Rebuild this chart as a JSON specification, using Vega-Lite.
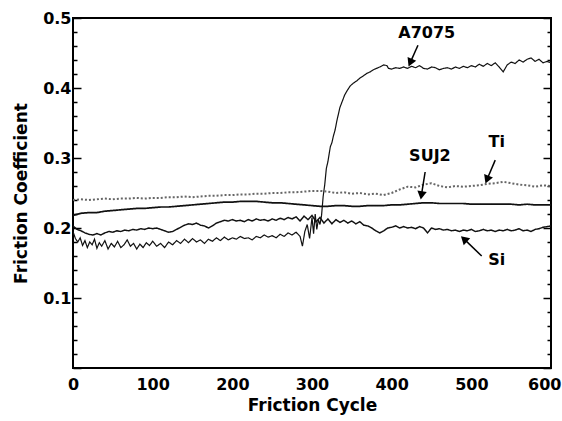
{
  "$schema": "https://vega.github.io/schema/vega-lite/v6.json",
  "width": 478,
  "height": 350,
  "autosize": {"type": "none"},
  "padding": {"left": 73, "top": 18, "right": 11, "bottom": 53},
  "background": "white",
  "config": {
    "view": {"stroke": "black", "strokeWidth": 2},
    "font": "DejaVu Sans",
    "axis": {"domain": false, "grid": false, "labelFont": "DejaVu Sans", "labelFontWeight": "bold", "labelFontSize": 16, "labelColor": "black", "titleFont": "DejaVu Sans", "titleFontWeight": "bold", "titleFontSize": 17, "titleColor": "black", "tickColor": "black"}
  },
  "datasets": {
    "curves": [
      {"s":"A7075","c":0,"f":0.195},{"s":"A7075","c":3,"f":0.185},{"s":"A7075","c":6,"f":0.180},{"s":"A7075","c":9,"f":0.186},{"s":"A7075","c":12,"f":0.175},{"s":"A7075","c":15,"f":0.182},{"s":"A7075","c":18,"f":0.172},{"s":"A7075","c":21,"f":0.180},{"s":"A7075","c":24,"f":0.176},{"s":"A7075","c":27,"f":0.184},{"s":"A7075","c":30,"f":0.171},{"s":"A7075","c":33,"f":0.179},{"s":"A7075","c":36,"f":0.174},{"s":"A7075","c":40,"f":0.182},{"s":"A7075","c":44,"f":0.170},{"s":"A7075","c":48,"f":0.178},{"s":"A7075","c":52,"f":0.173},{"s":"A7075","c":56,"f":0.181},{"s":"A7075","c":60,"f":0.172},{"s":"A7075","c":64,"f":0.176},{"s":"A7075","c":68,"f":0.183},{"s":"A7075","c":72,"f":0.174},{"s":"A7075","c":76,"f":0.178},{"s":"A7075","c":80,"f":0.170},{"s":"A7075","c":84,"f":0.177},{"s":"A7075","c":88,"f":0.172},{"s":"A7075","c":92,"f":0.179},{"s":"A7075","c":96,"f":0.175},{"s":"A7075","c":100,"f":0.181},{"s":"A7075","c":105,"f":0.174},{"s":"A7075","c":110,"f":0.178},{"s":"A7075","c":115,"f":0.172},{"s":"A7075","c":120,"f":0.180},{"s":"A7075","c":125,"f":0.176},{"s":"A7075","c":130,"f":0.182},{"s":"A7075","c":135,"f":0.178},{"s":"A7075","c":140,"f":0.184},{"s":"A7075","c":145,"f":0.179},{"s":"A7075","c":150,"f":0.185},{"s":"A7075","c":155,"f":0.180},{"s":"A7075","c":160,"f":0.183},{"s":"A7075","c":165,"f":0.178},{"s":"A7075","c":170,"f":0.184},{"s":"A7075","c":175,"f":0.181},{"s":"A7075","c":180,"f":0.186},{"s":"A7075","c":185,"f":0.182},{"s":"A7075","c":190,"f":0.187},{"s":"A7075","c":195,"f":0.183},{"s":"A7075","c":200,"f":0.186},{"s":"A7075","c":205,"f":0.184},{"s":"A7075","c":210,"f":0.188},{"s":"A7075","c":215,"f":0.185},{"s":"A7075","c":220,"f":0.186},{"s":"A7075","c":225,"f":0.183},{"s":"A7075","c":230,"f":0.188},{"s":"A7075","c":235,"f":0.186},{"s":"A7075","c":240,"f":0.190},{"s":"A7075","c":245,"f":0.187},{"s":"A7075","c":250,"f":0.189},{"s":"A7075","c":255,"f":0.186},{"s":"A7075","c":260,"f":0.191},{"s":"A7075","c":265,"f":0.188},{"s":"A7075","c":270,"f":0.193},{"s":"A7075","c":275,"f":0.190},{"s":"A7075","c":280,"f":0.194},{"s":"A7075","c":285,"f":0.188},{"s":"A7075","c":288,"f":0.174},{"s":"A7075","c":291,"f":0.195},{"s":"A7075","c":294,"f":0.205},{"s":"A7075","c":297,"f":0.185},{"s":"A7075","c":300,"f":0.215},{"s":"A7075","c":302,"f":0.192},{"s":"A7075","c":304,"f":0.220},{"s":"A7075","c":306,"f":0.198},{"s":"A7075","c":308,"f":0.212},{"s":"A7075","c":310,"f":0.205},{"s":"A7075","c":312,"f":0.218},{"s":"A7075","c":314,"f":0.245},{"s":"A7075","c":316,"f":0.262},{"s":"A7075","c":318,"f":0.285},{"s":"A7075","c":320,"f":0.295},{"s":"A7075","c":323,"f":0.316},{"s":"A7075","c":325,"f":0.322},{"s":"A7075","c":327,"f":0.332},{"s":"A7075","c":329,"f":0.340},{"s":"A7075","c":331,"f":0.352},{"s":"A7075","c":333,"f":0.362},{"s":"A7075","c":335,"f":0.372},{"s":"A7075","c":337,"f":0.378},{"s":"A7075","c":339,"f":0.384},{"s":"A7075","c":341,"f":0.390},{"s":"A7075","c":344,"f":0.396},{"s":"A7075","c":348,"f":0.403},{"s":"A7075","c":352,"f":0.407},{"s":"A7075","c":356,"f":0.410},{"s":"A7075","c":360,"f":0.414},{"s":"A7075","c":364,"f":0.417},{"s":"A7075","c":369,"f":0.421},{"s":"A7075","c":373,"f":0.423},{"s":"A7075","c":377,"f":0.426},{"s":"A7075","c":381,"f":0.428},{"s":"A7075","c":385,"f":0.430},{"s":"A7075","c":390,"f":0.433},{"s":"A7075","c":394,"f":0.432},{"s":"A7075","c":396,"f":0.428},{"s":"A7075","c":400,"f":0.427},{"s":"A7075","c":405,"f":0.429},{"s":"A7075","c":410,"f":0.428},{"s":"A7075","c":415,"f":0.430},{"s":"A7075","c":420,"f":0.428},{"s":"A7075","c":425,"f":0.431},{"s":"A7075","c":430,"f":0.429},{"s":"A7075","c":435,"f":0.432},{"s":"A7075","c":440,"f":0.428},{"s":"A7075","c":445,"f":0.427},{"s":"A7075","c":450,"f":0.430},{"s":"A7075","c":455,"f":0.429},{"s":"A7075","c":460,"f":0.426},{"s":"A7075","c":465,"f":0.428},{"s":"A7075","c":470,"f":0.429},{"s":"A7075","c":475,"f":0.427},{"s":"A7075","c":480,"f":0.430},{"s":"A7075","c":485,"f":0.428},{"s":"A7075","c":490,"f":0.431},{"s":"A7075","c":495,"f":0.429},{"s":"A7075","c":500,"f":0.432},{"s":"A7075","c":505,"f":0.430},{"s":"A7075","c":510,"f":0.434},{"s":"A7075","c":515,"f":0.431},{"s":"A7075","c":520,"f":0.435},{"s":"A7075","c":525,"f":0.432},{"s":"A7075","c":530,"f":0.436},{"s":"A7075","c":535,"f":0.430},{"s":"A7075","c":540,"f":0.423},{"s":"A7075","c":545,"f":0.433},{"s":"A7075","c":550,"f":0.437},{"s":"A7075","c":555,"f":0.435},{"s":"A7075","c":560,"f":0.440},{"s":"A7075","c":565,"f":0.437},{"s":"A7075","c":570,"f":0.441},{"s":"A7075","c":575,"f":0.443},{"s":"A7075","c":580,"f":0.438},{"s":"A7075","c":585,"f":0.441},{"s":"A7075","c":590,"f":0.436},{"s":"A7075","c":595,"f":0.438},{"s":"A7075","c":600,"f":0.436},

      {"s":"Si","c":0,"f":0.203},{"s":"Si","c":5,"f":0.198},{"s":"Si","c":10,"f":0.196},{"s":"Si","c":15,"f":0.193},{"s":"Si","c":20,"f":0.191},{"s":"Si","c":25,"f":0.190},{"s":"Si","c":30,"f":0.192},{"s":"Si","c":35,"f":0.190},{"s":"Si","c":40,"f":0.193},{"s":"Si","c":45,"f":0.195},{"s":"Si","c":50,"f":0.194},{"s":"Si","c":55,"f":0.196},{"s":"Si","c":60,"f":0.195},{"s":"Si","c":65,"f":0.197},{"s":"Si","c":70,"f":0.196},{"s":"Si","c":75,"f":0.198},{"s":"Si","c":80,"f":0.197},{"s":"Si","c":85,"f":0.199},{"s":"Si","c":90,"f":0.198},{"s":"Si","c":95,"f":0.200},{"s":"Si","c":100,"f":0.199},{"s":"Si","c":105,"f":0.200},{"s":"Si","c":110,"f":0.198},{"s":"Si","c":115,"f":0.196},{"s":"Si","c":120,"f":0.194},{"s":"Si","c":125,"f":0.195},{"s":"Si","c":130,"f":0.198},{"s":"Si","c":135,"f":0.201},{"s":"Si","c":140,"f":0.204},{"s":"Si","c":145,"f":0.206},{"s":"Si","c":150,"f":0.205},{"s":"Si","c":155,"f":0.207},{"s":"Si","c":160,"f":0.204},{"s":"Si","c":165,"f":0.203},{"s":"Si","c":170,"f":0.200},{"s":"Si","c":175,"f":0.203},{"s":"Si","c":180,"f":0.207},{"s":"Si","c":185,"f":0.209},{"s":"Si","c":190,"f":0.211},{"s":"Si","c":195,"f":0.210},{"s":"Si","c":200,"f":0.212},{"s":"Si","c":205,"f":0.210},{"s":"Si","c":210,"f":0.211},{"s":"Si","c":215,"f":0.209},{"s":"Si","c":220,"f":0.212},{"s":"Si","c":225,"f":0.210},{"s":"Si","c":230,"f":0.213},{"s":"Si","c":235,"f":0.211},{"s":"Si","c":240,"f":0.212},{"s":"Si","c":245,"f":0.210},{"s":"Si","c":250,"f":0.213},{"s":"Si","c":255,"f":0.211},{"s":"Si","c":260,"f":0.214},{"s":"Si","c":265,"f":0.212},{"s":"Si","c":270,"f":0.215},{"s":"Si","c":275,"f":0.213},{"s":"Si","c":280,"f":0.216},{"s":"Si","c":285,"f":0.210},{"s":"Si","c":290,"f":0.217},{"s":"Si","c":295,"f":0.212},{"s":"Si","c":300,"f":0.218},{"s":"Si","c":305,"f":0.209},{"s":"Si","c":310,"f":0.215},{"s":"Si","c":315,"f":0.207},{"s":"Si","c":320,"f":0.213},{"s":"Si","c":325,"f":0.206},{"s":"Si","c":330,"f":0.212},{"s":"Si","c":335,"f":0.208},{"s":"Si","c":340,"f":0.211},{"s":"Si","c":345,"f":0.207},{"s":"Si","c":350,"f":0.210},{"s":"Si","c":355,"f":0.206},{"s":"Si","c":360,"f":0.209},{"s":"Si","c":365,"f":0.204},{"s":"Si","c":370,"f":0.203},{"s":"Si","c":375,"f":0.200},{"s":"Si","c":380,"f":0.196},{"s":"Si","c":385,"f":0.193},{"s":"Si","c":390,"f":0.196},{"s":"Si","c":395,"f":0.200},{"s":"Si","c":400,"f":0.201},{"s":"Si","c":405,"f":0.203},{"s":"Si","c":410,"f":0.200},{"s":"Si","c":415,"f":0.202},{"s":"Si","c":420,"f":0.200},{"s":"Si","c":425,"f":0.201},{"s":"Si","c":430,"f":0.199},{"s":"Si","c":435,"f":0.202},{"s":"Si","c":440,"f":0.200},{"s":"Si","c":445,"f":0.193},{"s":"Si","c":450,"f":0.200},{"s":"Si","c":455,"f":0.198},{"s":"Si","c":460,"f":0.199},{"s":"Si","c":465,"f":0.197},{"s":"Si","c":470,"f":0.198},{"s":"Si","c":475,"f":0.196},{"s":"Si","c":480,"f":0.197},{"s":"Si","c":485,"f":0.195},{"s":"Si","c":490,"f":0.197},{"s":"Si","c":495,"f":0.196},{"s":"Si","c":500,"f":0.198},{"s":"Si","c":505,"f":0.195},{"s":"Si","c":510,"f":0.196},{"s":"Si","c":515,"f":0.198},{"s":"Si","c":520,"f":0.196},{"s":"Si","c":525,"f":0.197},{"s":"Si","c":530,"f":0.195},{"s":"Si","c":535,"f":0.197},{"s":"Si","c":540,"f":0.196},{"s":"Si","c":545,"f":0.198},{"s":"Si","c":550,"f":0.196},{"s":"Si","c":555,"f":0.197},{"s":"Si","c":560,"f":0.199},{"s":"Si","c":565,"f":0.196},{"s":"Si","c":570,"f":0.197},{"s":"Si","c":575,"f":0.195},{"s":"Si","c":580,"f":0.198},{"s":"Si","c":585,"f":0.199},{"s":"Si","c":590,"f":0.201},{"s":"Si","c":595,"f":0.202},{"s":"Si","c":600,"f":0.203},

      {"s":"SUJ2","c":0,"f":0.218},{"s":"SUJ2","c":10,"f":0.221},{"s":"SUJ2","c":20,"f":0.222},{"s":"SUJ2","c":30,"f":0.222},{"s":"SUJ2","c":40,"f":0.224},{"s":"SUJ2","c":50,"f":0.225},{"s":"SUJ2","c":60,"f":0.226},{"s":"SUJ2","c":70,"f":0.227},{"s":"SUJ2","c":80,"f":0.228},{"s":"SUJ2","c":90,"f":0.228},{"s":"SUJ2","c":100,"f":0.229},{"s":"SUJ2","c":110,"f":0.230},{"s":"SUJ2","c":120,"f":0.230},{"s":"SUJ2","c":130,"f":0.231},{"s":"SUJ2","c":140,"f":0.232},{"s":"SUJ2","c":150,"f":0.233},{"s":"SUJ2","c":160,"f":0.234},{"s":"SUJ2","c":170,"f":0.235},{"s":"SUJ2","c":180,"f":0.236},{"s":"SUJ2","c":190,"f":0.237},{"s":"SUJ2","c":200,"f":0.237},{"s":"SUJ2","c":210,"f":0.238},{"s":"SUJ2","c":220,"f":0.238},{"s":"SUJ2","c":230,"f":0.238},{"s":"SUJ2","c":240,"f":0.237},{"s":"SUJ2","c":250,"f":0.236},{"s":"SUJ2","c":260,"f":0.236},{"s":"SUJ2","c":270,"f":0.235},{"s":"SUJ2","c":280,"f":0.234},{"s":"SUJ2","c":290,"f":0.233},{"s":"SUJ2","c":300,"f":0.232},{"s":"SUJ2","c":310,"f":0.231},{"s":"SUJ2","c":320,"f":0.231},{"s":"SUJ2","c":330,"f":0.232},{"s":"SUJ2","c":340,"f":0.232},{"s":"SUJ2","c":350,"f":0.231},{"s":"SUJ2","c":360,"f":0.231},{"s":"SUJ2","c":370,"f":0.232},{"s":"SUJ2","c":380,"f":0.232},{"s":"SUJ2","c":390,"f":0.232},{"s":"SUJ2","c":400,"f":0.233},{"s":"SUJ2","c":410,"f":0.233},{"s":"SUJ2","c":420,"f":0.234},{"s":"SUJ2","c":430,"f":0.235},{"s":"SUJ2","c":440,"f":0.236},{"s":"SUJ2","c":450,"f":0.236},{"s":"SUJ2","c":460,"f":0.235},{"s":"SUJ2","c":470,"f":0.235},{"s":"SUJ2","c":480,"f":0.235},{"s":"SUJ2","c":490,"f":0.235},{"s":"SUJ2","c":500,"f":0.234},{"s":"SUJ2","c":510,"f":0.234},{"s":"SUJ2","c":520,"f":0.234},{"s":"SUJ2","c":530,"f":0.234},{"s":"SUJ2","c":540,"f":0.234},{"s":"SUJ2","c":550,"f":0.234},{"s":"SUJ2","c":560,"f":0.233},{"s":"SUJ2","c":570,"f":0.234},{"s":"SUJ2","c":580,"f":0.233},{"s":"SUJ2","c":590,"f":0.233},{"s":"SUJ2","c":600,"f":0.233},

      {"s":"Ti","c":0,"f":0.240},{"s":"Ti","c":10,"f":0.241},{"s":"Ti","c":20,"f":0.240},{"s":"Ti","c":30,"f":0.241},{"s":"Ti","c":40,"f":0.242},{"s":"Ti","c":50,"f":0.241},{"s":"Ti","c":60,"f":0.242},{"s":"Ti","c":70,"f":0.242},{"s":"Ti","c":80,"f":0.243},{"s":"Ti","c":90,"f":0.242},{"s":"Ti","c":100,"f":0.243},{"s":"Ti","c":110,"f":0.243},{"s":"Ti","c":120,"f":0.244},{"s":"Ti","c":130,"f":0.244},{"s":"Ti","c":140,"f":0.245},{"s":"Ti","c":150,"f":0.244},{"s":"Ti","c":160,"f":0.245},{"s":"Ti","c":170,"f":0.246},{"s":"Ti","c":180,"f":0.246},{"s":"Ti","c":190,"f":0.247},{"s":"Ti","c":200,"f":0.247},{"s":"Ti","c":210,"f":0.248},{"s":"Ti","c":220,"f":0.248},{"s":"Ti","c":230,"f":0.249},{"s":"Ti","c":240,"f":0.249},{"s":"Ti","c":250,"f":0.250},{"s":"Ti","c":260,"f":0.250},{"s":"Ti","c":270,"f":0.251},{"s":"Ti","c":280,"f":0.251},{"s":"Ti","c":290,"f":0.252},{"s":"Ti","c":300,"f":0.253},{"s":"Ti","c":310,"f":0.253},{"s":"Ti","c":320,"f":0.252},{"s":"Ti","c":330,"f":0.250},{"s":"Ti","c":340,"f":0.251},{"s":"Ti","c":350,"f":0.249},{"s":"Ti","c":360,"f":0.250},{"s":"Ti","c":370,"f":0.248},{"s":"Ti","c":380,"f":0.249},{"s":"Ti","c":390,"f":0.247},{"s":"Ti","c":400,"f":0.250},{"s":"Ti","c":410,"f":0.255},{"s":"Ti","c":420,"f":0.259},{"s":"Ti","c":430,"f":0.258},{"s":"Ti","c":440,"f":0.262},{"s":"Ti","c":450,"f":0.264},{"s":"Ti","c":460,"f":0.260},{"s":"Ti","c":470,"f":0.258},{"s":"Ti","c":480,"f":0.260},{"s":"Ti","c":490,"f":0.259},{"s":"Ti","c":500,"f":0.260},{"s":"Ti","c":510,"f":0.261},{"s":"Ti","c":520,"f":0.263},{"s":"Ti","c":530,"f":0.264},{"s":"Ti","c":540,"f":0.266},{"s":"Ti","c":550,"f":0.264},{"s":"Ti","c":560,"f":0.262},{"s":"Ti","c":570,"f":0.261},{"s":"Ti","c":580,"f":0.259},{"s":"Ti","c":590,"f":0.261},{"s":"Ti","c":600,"f":0.260}
    ],
    "notes": [
      {"label":"A7075","c":444,"f":0.479,"ac":433,"af":0.461,"hc":424,"hf":0.438},
      {"label":"SUJ2","c":448,"f":0.303,"ac":442,"af":0.280,"hc":437.6,"hf":0.2486},
      {"label":"Ti","c":532,"f":0.323,"ac":530,"af":0.297,"hc":520.3,"hf":0.271},
      {"label":"Si","c":532,"f":0.154,"ac":513,"af":0.160,"hc":492,"hf":0.183}
    ]
  },
  "layer": [
    {
      "data": {"name": "curves"},
      "mark": {"type": "line", "clip": true},
      "encoding": {
        "x": {"field": "c", "type": "quantitative", "scale": {"domain": [0, 600], "nice": false},
              "axis": {"values": [0,100,200,300,400,500,600], "ticks": false, "labelPadding": 8, "title": "Friction Cycle", "titlePadding": 5, "labelFlush": false,
                       "labelAlign": {"condition": {"test": "datum.value == 600", "value": "right"}, "value": "center"},
                       "labelOffset": {"condition": {"test": "datum.value == 600", "value": 10}, "value": 0}}},
        "y": {"field": "f", "type": "quantitative", "scale": {"domain": [0, 0.5], "nice": false, "zero": false},
              "axis": {"orient": "left", "values": [0,0.02,0.04,0.06,0.08,0.1,0.12,0.14,0.16,0.18,0.2,0.22,0.24,0.26,0.28,0.3,0.32,0.34,0.36,0.38,0.4,0.42,0.44,0.46,0.48,0.5],
                       "labelExpr": "datum.value > 0.05 && abs(datum.value*10 - round(datum.value*10)) < 0.01 ? format(datum.value, '.1f') : ''",
                       "tickSize": {"condition": {"test": "abs(datum.value*10 - round(datum.value*10)) < 0.01", "value": -8}, "value": -4},
                       "tickWidth": 1.5, "labelPadding": 10, "labelFlush": false, "title": "Friction Coefficient", "titlePadding": 12}},
        "color": {"field": "s", "type": "nominal", "scale": {"domain": ["A7075","Si","SUJ2","Ti"], "range": ["#111111","#111111","#111111","#666666"]}, "legend": null},
        "strokeWidth": {"field": "s", "type": "nominal", "scale": {"domain": ["A7075","Si","SUJ2","Ti"], "range": [1.2, 2, 2, 1.1]}, "legend": null},
        "strokeDash": {"field": "s", "type": "nominal", "scale": {"domain": ["A7075","Si","SUJ2","Ti"], "range": [[1,0],[1,0],[1,0],[2,2]]}, "legend": null},
        "order": {"field": "c", "type": "quantitative"}
      }
    },
    {
      "data": {"name": "notes"},
      "mark": {"type": "text", "font": "DejaVu Sans", "fontWeight": "bold", "fontSize": 16, "color": "black"},
      "encoding": {
        "x": {"field": "c", "type": "quantitative"},
        "y": {"field": "f", "type": "quantitative",
              "axis": {"orient": "right", "values": [0,0.02,0.04,0.06,0.08,0.1,0.12,0.14,0.16,0.18,0.2,0.22,0.24,0.26,0.28,0.3,0.32,0.34,0.36,0.38,0.4,0.42,0.44,0.46,0.48,0.5],
                       "labels": false, "title": null,
                       "tickSize": {"condition": {"test": "abs(datum.value*10 - round(datum.value*10)) < 0.01", "value": -8}, "value": -4},
                       "tickWidth": 1.5}},
        "text": {"field": "label"}
      }
    },
    {
      "data": {"name": "notes"},
      "mark": {"type": "rule", "color": "black", "strokeWidth": 1.5},
      "encoding": {
        "x": {"field": "ac", "type": "quantitative"},
        "y": {"field": "af", "type": "quantitative", "axis": null},
        "x2": {"field": "hc"},
        "y2": {"field": "hf"}
      }
    },
    {
      "data": {"name": "notes"},
      "transform": [{"filter": "datum.label == 'A7075'"}],
      "mark": {"type": "point", "shape": "triangle", "filled": true, "color": "black", "opacity": 1, "size": 90, "angle": 204},
      "encoding": {"x": {"field": "hc", "type": "quantitative"}, "y": {"field": "hf", "type": "quantitative", "axis": null}}
    },
    {
      "data": {"name": "notes"},
      "transform": [{"filter": "datum.label == 'SUJ2'"}],
      "mark": {"type": "point", "shape": "triangle", "filled": true, "color": "black", "opacity": 1, "size": 90, "angle": 189},
      "encoding": {"x": {"field": "hc", "type": "quantitative"}, "y": {"field": "hf", "type": "quantitative", "axis": null}}
    },
    {
      "data": {"name": "notes"},
      "transform": [{"filter": "datum.label == 'Ti'"}],
      "mark": {"type": "point", "shape": "triangle", "filled": true, "color": "black", "opacity": 1, "size": 90, "angle": 202},
      "encoding": {"x": {"field": "hc", "type": "quantitative"}, "y": {"field": "hf", "type": "quantitative", "axis": null}}
    },
    {
      "data": {"name": "notes"},
      "transform": [{"filter": "datum.label == 'Si'"}],
      "mark": {"type": "point", "shape": "triangle", "filled": true, "color": "black", "opacity": 1, "size": 90, "angle": 313},
      "encoding": {"x": {"field": "hc", "type": "quantitative"}, "y": {"field": "hf", "type": "quantitative", "axis": null}}
    }
  ],
  "resolve": {"axis": {"y": "independent"}}
}
